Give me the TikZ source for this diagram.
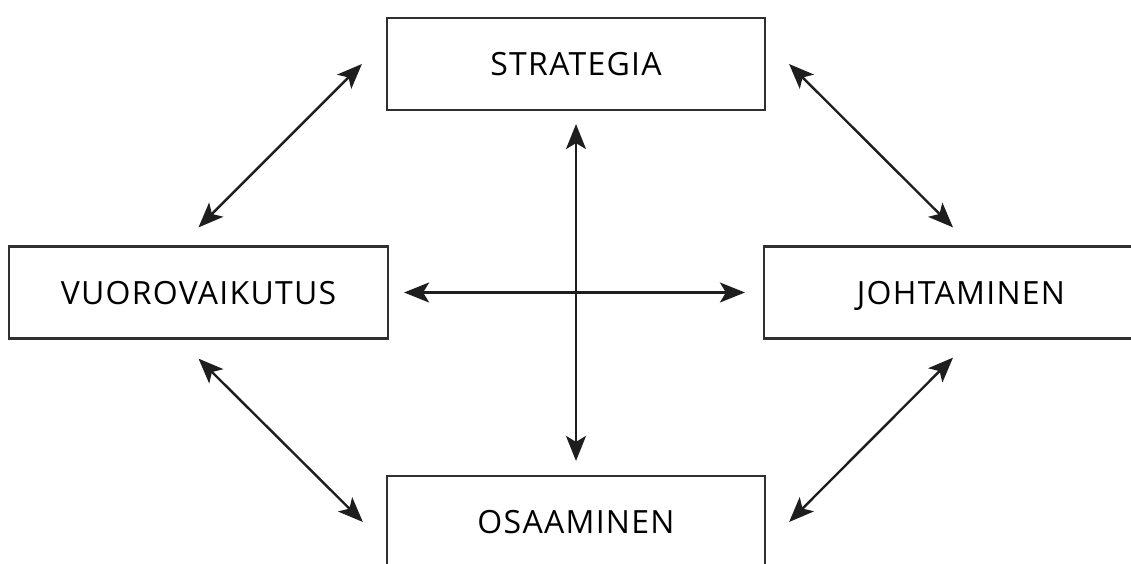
\documentclass[tikz,border=0pt]{standalone}
\usepackage{fontspec}
\setmainfont{Open Sans}[LetterSpace=4]
\usetikzlibrary{arrows.meta}
\definecolor{ink}{HTML}{1E1E1E}
\definecolor{boxline}{HTML}{303030}
\tikzset{
  box/.style={draw=boxline, line width=2.2pt, rectangle, inner sep=0pt, text depth=0pt,
    minimum width=378pt, minimum height=92pt, font=\fontsize{32}{38}\selectfont, text=black},
  arr/.style={draw=ink, line width=2.4pt,
    {Stealth[length=25pt,width=20pt,inset=6pt]}-{Stealth[length=25pt,width=20pt,inset=6pt]}}
}
\begin{document}
\begin{tikzpicture}[x=1pt,y=-1pt]
\useasboundingbox (0,0) rectangle (1131,563);
\begin{scope}
\clip (0,0) rectangle (1131,563);
\node[box] (s) at (576,64) {STRATEGIA};
\node[box, minimum width=379pt] (v) at (198.5,292.5) {VUOROVAIKUTUS};
\node[box, minimum width=394pt] (j) at (961,292.5) {JOHTAMINEN};
\node[box] (o) at (576,522) {OSAAMINEN};
\end{scope}
\draw[arr] ([yshift=18pt]v.north) -- ([xshift=-24pt]s.west);
\draw[arr] ([xshift=23pt]s.east) -- ([xshift=-8pt,yshift=18pt]j.north);
\draw[arr] ([yshift=-19pt]v.south) -- ([xshift=-23pt]o.west);
\draw[arr] ([xshift=23pt]o.east) -- ([xshift=-8pt,yshift=-18pt]j.south);
\draw[arr] ([xshift=15pt]v.east) -- ([xshift=-18pt]j.west);
\draw[arr] ([yshift=-13pt]s.south) -- ([yshift=14pt]o.north);
\end{tikzpicture}
\end{document}
